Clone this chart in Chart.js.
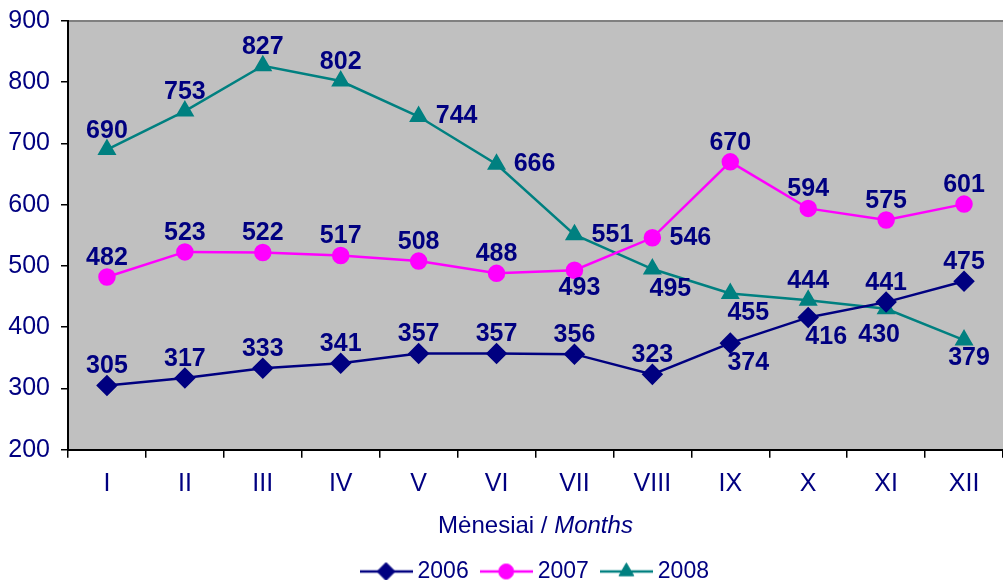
<!DOCTYPE html>
<html>
<head>
<meta charset="utf-8">
<script src="https://cdn.jsdelivr.net/npm/chart.js"></script>
<style>
html, body { margin: 0; padding: 0; background: #fff; }
#wrap { width: 1003px; height: 580px; }
</style>
</head>
<body>
<div id="wrap"><canvas id="myChart"></canvas></div>
<script>
var months = ['I', 'II', 'III', 'IV', 'V', 'VI', 'VII', 'VIII', 'IX', 'X', 'XI', 'XII'];
var y2006 = [305, 317, 333, 341, 357, 357, 356, 323, 374, 416, 441, 475];
var y2007 = [482, 523, 522, 517, 508, 488, 493, 546, 670, 594, 575, 601];
var y2008 = [690, 753, 827, 802, 744, 666, 551, 495, 455, 444, 430, 379];
var yMin = 200, yMax = 900, yStep = 100;

// where each value label sits: a = above, b = below, bl = low and left, r = right, br = below right
var pos2006 = ['a', 'a', 'a', 'a', 'a', 'a', 'a', 'a', 'br', 'br', 'a', 'a'];
var pos2007 = ['a', 'a', 'a', 'a', 'a', 'a', 'b', 'r', 'a', 'a', 'a', 'a'];
var pos2008 = ['a', 'a', 'a', 'a', 'r', 'r', 'r', 'br', 'br', 'a', 'bl', 'b'];
var offsets = { a: [0, -19], b: [5, 18], bl: [-7, 26], r: [38, 0], br: [18, 20] };

var NAVY = '#000080', PINK = '#FF00FF', TEAL = '#008080';
var FONT = 'Arial, "Liberation Sans", sans-serif';

function legendIcon(color, style, radius) {
    var c = document.createElement('canvas');
    c.width = 53; c.height = 22;
    var g = c.getContext('2d');
    g.strokeStyle = color;
    g.lineWidth = 2.5;
    g.beginPath(); g.moveTo(0, 11); g.lineTo(53, 11); g.stroke();
    g.fillStyle = color;
    g.lineWidth = 1;
    Chart.helpers.drawPoint(g, { pointStyle: style, radius: radius, borderWidth: 1, rotation: 0 }, 26.5, 11);
    return c;
}

var plotBg = {
    id: 'plotBg',
    beforeDraw: function (chart) {
        var a = chart.chartArea, ctx = chart.ctx;
        ctx.save();
        ctx.fillStyle = '#C0C0C0';
        ctx.fillRect(a.left, a.top, a.right - a.left, a.bottom - a.top);
        ctx.strokeStyle = '#808080';
        ctx.lineWidth = 2;
        ctx.beginPath(); ctx.moveTo(a.left, a.top); ctx.lineTo(a.right, a.top); ctx.stroke();
        ctx.restore();
    },
    afterLayout: function (chart) {
        // nudge legend a little, like the original
        chart.legend.left += 2;
        chart.legend.right += 2;
        chart.legend.top -= 4;
        chart.legend.bottom -= 4;
    }
};

var valueLabels = {
    id: 'valueLabels',
    afterDatasetsDraw: function (chart) {
        var ctx = chart.ctx;
        ctx.save();
        ctx.font = 'bold 25px ' + FONT;
        ctx.fillStyle = NAVY;
        ctx.textAlign = 'center';
        ctx.textBaseline = 'middle';
        chart.data.datasets.forEach(function (ds, i) {
            chart.getDatasetMeta(i).data.forEach(function (pt, j) {
                var o = offsets[ds.labelPos[j]];
                ctx.fillText(ds.data[j], pt.x + o[0], pt.y + o[1]);
            });
        });
        ctx.restore();
    }
};

// axis title with the english word in italics
var xTitle = {
    id: 'xTitle',
    afterDraw: function (chart) {
        var ctx = chart.ctx, a = chart.chartArea, sx = chart.scales.x;
        var p1 = 'Mėnesiai / ', p2 = 'Months';
        ctx.save();
        ctx.fillStyle = NAVY;
        ctx.textBaseline = 'middle';
        ctx.font = '24px ' + FONT;
        var w1 = ctx.measureText(p1).width;
        ctx.font = 'italic 24px ' + FONT;
        var w2 = ctx.measureText(p2).width;
        var x = (a.left + a.right) / 2 - (w1 + w2) / 2;
        var y = sx.bottom - 8 - 12.4;
        ctx.font = '24px ' + FONT;
        ctx.textAlign = 'left';
        ctx.fillText(p1, x, y);
        ctx.font = 'italic 24px ' + FONT;
        ctx.fillText(p2, x + w1, y);
        ctx.restore();
    }
};

var ctx = document.getElementById('myChart');
var myChart = new Chart(ctx, {
    type: 'line',
    data: {
        labels: months,
        datasets: [{
            label: '2006',
            data: y2006,
            labelPos: pos2006,
            borderColor: NAVY,
            backgroundColor: NAVY,
            borderWidth: 2.5,
            pointStyle: 'rectRot',
            pointRadius: 9,
            pointHoverRadius: 9,
            tension: 0
        }, {
            label: '2007',
            data: y2007,
            labelPos: pos2007,
            borderColor: PINK,
            backgroundColor: PINK,
            borderWidth: 2.5,
            pointStyle: 'circle',
            pointRadius: 7.5,
            pointHoverRadius: 7.5,
            tension: 0
        }, {
            label: '2008',
            data: y2008,
            labelPos: pos2008,
            borderColor: TEAL,
            backgroundColor: TEAL,
            borderWidth: 2.5,
            pointStyle: 'triangle',
            pointRadius: 8.5,
            pointHoverRadius: 8.5,
            tension: 0
        }]
    },
    options: {
        responsive: true,
        maintainAspectRatio: false,
        animation: false,
        layout: { autoPadding: false, padding: { top: 21, right: 0, left: 0, bottom: -17 } },
        plugins: {
            tooltip: { enabled: false },
            legend: {
                position: 'bottom',
                fullSize: false,
                labels: {
                    color: NAVY,
                    font: { family: FONT, size: 23 },
                    usePointStyle: true,
                    pointStyleWidth: 40,
                    boxHeight: 23,
                    padding: 17.5,
                    generateLabels: function (chart) {
                        var icons = [legendIcon(NAVY, 'rectRot', 9), legendIcon(PINK, 'circle', 7.5), legendIcon(TEAL, 'triangle', 8.5)];
                        return chart.data.datasets.map(function (ds, i) {
                            return { text: ds.label, pointStyle: icons[i], fillStyle: ds.borderColor, strokeStyle: ds.borderColor, lineWidth: 0, fontColor: NAVY, datasetIndex: i, hidden: false };
                        });
                    }
                }
            }
        },
        scales: {
            x: {
                offset: true,
                grid: { offset: true, drawOnChartArea: false, tickLength: 8, color: '#000', lineWidth: 1.5 },
                border: { color: '#000', width: 2 },
                ticks: { color: NAVY, font: { family: FONT, size: 25 }, padding: 11 },
                title: { display: true, text: 'Mėnesiai / Months', color: 'rgba(0,0,0,0)', font: { family: FONT, size: 24 }, padding: { top: 0, bottom: 8 } }
            },
            y: {
                min: yMin,
                max: yMax,
                ticks: { stepSize: yStep, color: NAVY, font: { family: FONT, size: 25 }, padding: 11 },
                grid: { drawOnChartArea: false, tickLength: 7, color: '#000', lineWidth: 1.5 },
                border: { color: '#000', width: 2 },
                afterFit: function (scale) {
                    scale.width = 68;
                    scale.paddingTop = 0;
                    scale.paddingBottom = 0;
                }
            }
        }
    },
    plugins: [plotBg, valueLabels, xTitle]
});
</script>
</body>
</html>
